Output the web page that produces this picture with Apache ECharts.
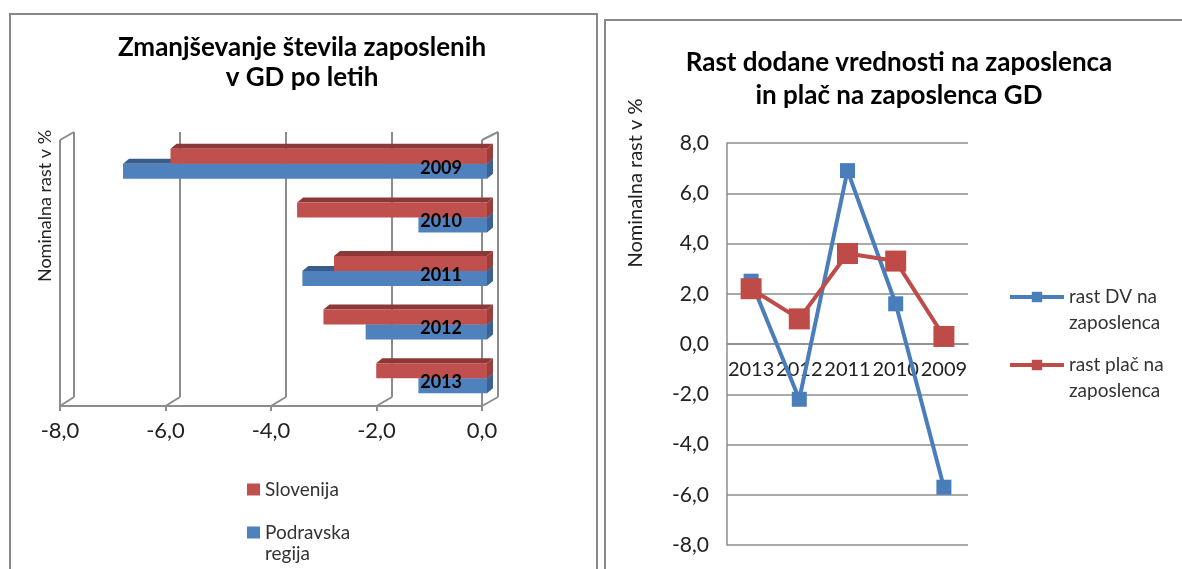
<!DOCTYPE html>
<html>
<head>
<meta charset="utf-8">
<script src="https://cdn.jsdelivr.net/npm/echarts@6/dist/echarts.min.js"></script>
<style>
html, body { margin: 0; padding: 0; background: #fff; }
#main { width: 1182px; height: 569px; }
</style>
</head>
<body>
<div id="main"></div>
<script>
// levi graf - zmanjsevanje stevila zaposlenih
var years = ['2009', '2010', '2011', '2012', '2013'];
var slovenija = [-6.0, -3.6, -2.9, -3.1, -2.1];
var podravska = [-6.9, -1.3, -3.5, -2.3, -1.3];

// desni graf - rast DV in plac
var lineYears = ['2013', '2012', '2011', '2010', '2009'];
var rastDV = [2.5, -2.2, 6.9, 1.6, -5.7];
var rastPlac = [2.2, 1.0, 3.6, 3.3, 0.3];

var FONT = 'Lato';
var GRID_COLOR = '#8c8c8c';
var Y_MIN = -8, Y_MAX = 8;
var RIGHT_GRID = { left: 727, width: 241, top: 143, height: 402, outerBoundsMode: 'none' };
// kategorijska os lezi na nicli
var zeroOffset = -RIGHT_GRID.height * (0 - Y_MIN) / (Y_MAX - Y_MIN);

function comma(v) {
	return v.toFixed(1).replace('.', ',');
}

// 3D vodoravni stolpec
function bar3d(front, top, side, row) {
	return function(params, api) {
		var idx = api.value(1);
		var p0 = api.coord([0, idx]);
		var p1 = api.coord([api.value(0), idx]);
		var h = 15, dx = 6, dy = -5;
		var y = p0[1] - 19 + row * h;
		var x0 = p0[0], x1 = p1[0];
		return {
			type: 'group',
			children: [{
				type: 'polygon',
				shape: { points: [[x1, y], [x0, y], [x0 + dx, y + dy], [x1 + dx, y + dy]] },
				style: { fill: top }
			}, {
				type: 'polygon',
				shape: { points: [[x0, y], [x0 + dx, y + dy], [x0 + dx, y + h + dy], [x0, y + h]] },
				style: { fill: side }
			}, {
				type: 'rect',
				shape: { x: x1, y: y, width: x0 - x1, height: h },
				style: { fill: front }
			}]
		};
	};
}

var chart = echarts.init(document.getElementById('main'), null, { renderer: 'canvas' });

var option = {
	backgroundColor: '#fff',
	textStyle: { fontFamily: FONT },
	animation: false,
	title: [{
		text: 'Zmanjševanje števila zaposlenih\nv GD po letih',
		left: 302, top: 33, textAlign: 'center', padding: 0,
		textStyle: { fontFamily: FONT, fontSize: 26, fontWeight: 'bold', color: '#000', lineHeight: 30 }
	}, {
		text: 'Rast dodane vrednosti na zaposlenca\nin plač na zaposlenca GD',
		left: 899, top: 46, textAlign: 'center', padding: 0,
		textStyle: { fontFamily: FONT, fontSize: 26, fontWeight: 'bold', color: '#000', lineHeight: 33 }
	}],
	legend: [{
		orient: 'vertical', left: 247, top: 479, height: 150, padding: 0,
		itemWidth: 13, itemHeight: 12, itemGap: 1,
		icon: 'rect',
		textStyle: { fontFamily: FONT, fontSize: 19, color: '#333', lineHeight: 21 },
		formatter: function(name) {
			return name.indexOf(' ') > 0 ? '\n' + name.replace(' ', '\n') : name;
		},
		data: ['Slovenija', 'Podravska regija']
	}, {
		orient: 'vertical', left: 1008, top: 258, padding: 0,
		itemWidth: 54, itemHeight: 13, itemGap: -10,
		lineStyle: { width: 4 },
		textStyle: { fontFamily: FONT, fontSize: 19, color: '#333', lineHeight: 26 },
		formatter: function(name) { return '\n' + name.replace(' zaposlenca', '\nzaposlenca'); },
		data: ['rast DV na zaposlenca', 'rast plač na zaposlenca']
	}],
	grid: [
		// sprednja ravnina (oznake osi)
		{ left: 60, width: 422, top: 140, height: 266, outerBoundsMode: 'none' },
		// stolpci
		{ left: 65, width: 422, top: 141, height: 268, outerBoundsMode: 'none' },
		// zadnja stena
		{ left: 74, width: 424, top: 132, height: 265, outerBoundsMode: 'none' },
		// desni graf
		RIGHT_GRID
	],
	xAxis: [{
		gridIndex: 0, type: 'value', min: -8, max: 0, interval: 2,
		axisLine: { show: true, lineStyle: { color: GRID_COLOR, width: 2 } },
		axisTick: { show: true, length: 5, lineStyle: { color: GRID_COLOR, width: 2 } },
		splitLine: { show: false },
		axisLabel: { fontFamily: FONT, fontSize: 22, color: '#222', margin: 14, formatter: comma }
	}, {
		gridIndex: 1, type: 'value', min: -8, max: 0, show: false
	}, {
		gridIndex: 2, type: 'value', min: -8, max: 0, interval: 2,
		axisLine: { show: false }, axisTick: { show: false }, axisLabel: { show: false },
		splitLine: { show: true, lineStyle: { color: GRID_COLOR, width: 2 } }
	}, {
		gridIndex: 3, type: 'category', data: lineYears, offset: zeroOffset,
		axisLine: { show: true, onZero: false, lineStyle: { color: GRID_COLOR, width: 1.5 } },
		axisTick: { show: false },
		axisLabel: { interval: 0, fontFamily: FONT, fontSize: 20, color: '#222', margin: 16 }
	}],
	yAxis: [{
		gridIndex: 0, type: 'category', data: years, show: false
	}, {
		gridIndex: 1, type: 'category', data: years, inverse: true, position: 'right', z: 10,
		axisLine: { show: false }, axisTick: { show: false },
		axisLabel: { inside: true, margin: 25, fontFamily: FONT, fontSize: 18, fontWeight: 'bold', color: '#000' }
	}, {
		gridIndex: 2, type: 'category', data: years, show: false
	}, {
		gridIndex: 3, type: 'value', min: Y_MIN, max: Y_MAX, interval: 2,
		axisLine: { show: true, lineStyle: { color: GRID_COLOR, width: 1.5 } },
		axisTick: { show: false },
		splitLine: { lineStyle: { color: GRID_COLOR, width: 1.5 } },
		axisLabel: { fontFamily: FONT, fontSize: 21, color: '#222', margin: 18, formatter: comma }
	}],
	series: [{
		name: 'Podravska regija', type: 'custom', xAxisIndex: 1, yAxisIndex: 1,
		itemStyle: { color: '#4f81bd' },
		renderItem: bar3d('#4f81bd', '#385d8a', '#3b6291', 1),
		encode: { x: 0, y: 1 },
		data: podravska.map(function(v, i) { return [v, i]; })
	}, {
		name: 'Slovenija', type: 'custom', xAxisIndex: 1, yAxisIndex: 1,
		itemStyle: { color: '#c0504d' },
		renderItem: bar3d('#c0504d', '#8c3836', '#9b3f3c', 0),
		encode: { x: 0, y: 1 },
		data: slovenija.map(function(v, i) { return [v, i]; })
	}, {
		name: 'rast DV na zaposlenca', type: 'line', xAxisIndex: 3, yAxisIndex: 3,
		symbol: 'rect', symbolSize: 15, z: 3,
		lineStyle: { color: '#4a7ebb', width: 4 },
		itemStyle: { color: '#4a7ebb' },
		data: rastDV
	}, {
		name: 'rast plač na zaposlenca', type: 'line', xAxisIndex: 3, yAxisIndex: 3,
		symbol: 'rect', symbolSize: 21, z: 3,
		lineStyle: { color: '#be4b48', width: 4 },
		itemStyle: { color: '#be4b48' },
		data: rastPlac
	}],
	graphic: []
};

chart.setOption(option);

// okvirji, 3D robovi in imena osi
function px(gi, v) {
	return chart.convertToPixel({ xAxisIndex: gi }, v);
}
var floorY = 406, backBottom = 397, frontTop = 140, backTop = 132;
var gr = [];
[-8, -6, -4, -2, 0].forEach(function(v) {
	gr.push({ type: 'line', shape: { x1: px(0, v), y1: floorY, x2: px(2, v), y2: backBottom },
		style: { stroke: GRID_COLOR, lineWidth: 2 } });
});
[-8, 0].forEach(function(v) {
	gr.push({ type: 'line', shape: { x1: px(0, v), y1: frontTop, x2: px(0, v), y2: floorY },
		style: { stroke: GRID_COLOR, lineWidth: 2 }, z: -1 });
	gr.push({ type: 'line', shape: { x1: px(0, v), y1: frontTop, x2: px(2, v), y2: backTop },
		style: { stroke: GRID_COLOR, lineWidth: 2 } });
});
gr.push({ type: 'rect', shape: { x: 10, y: 14, width: 587, height: 600 },
	style: { fill: 'none', stroke: '#888', lineWidth: 2 }, z: -10 });
gr.push({ type: 'rect', shape: { x: 605, y: 20, width: 600, height: 600 },
	style: { fill: 'none', stroke: '#888', lineWidth: 2 }, z: -10 });
gr.push({ type: 'text', x: 45, y: 206, rotation: Math.PI / 2,
	style: { text: 'Nominalna rast v %', fontFamily: FONT, fontSize: 18, fill: '#222', align: 'center', verticalAlign: 'middle' } });
gr.push({ type: 'text', x: 636, y: 183, rotation: Math.PI / 2,
	style: { text: 'Nominalna rast v %', fontFamily: FONT, fontSize: 20, fill: '#222', align: 'center', verticalAlign: 'middle' } });
chart.setOption({ graphic: gr });
</script>
</body>
</html>
